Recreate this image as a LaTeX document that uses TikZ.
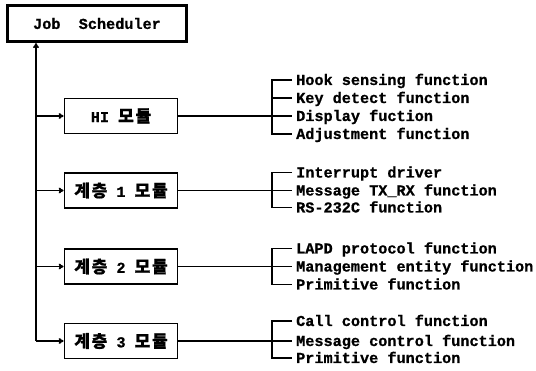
\documentclass[tikz,border=0pt]{standalone}
\usepackage{fontspec}
\setmonofont{Liberation Mono}[BoldFeatures={FakeBold=0.8}]
\newfontfamily\krfont[LetterSpace=10,BoldFeatures={FakeBold=1}]{Noto Sans CJK KR}
\usetikzlibrary{arrows.meta}
\newcommand\krt[1]{{\krfont\bfseries\fontsize{17}{18}\selectfont #1}}
\begin{document}
\begin{tikzpicture}[x=1pt,y=-1pt,
  jobbox/.style={draw, line width=3.2pt, minimum width=179pt, minimum height=36pt, inner sep=0pt,
    font=\ttfamily\bfseries\fontsize{15.2}{18}\selectfont},
  modbox/.style={draw, line width=1.9pt, minimum width=113pt, minimum height=35pt, inner sep=0pt,
    font=\ttfamily\bfseries\fontsize{15.2}{18}\selectfont},
  func/.style={anchor=west, inner sep=0pt, text height=10pt, text depth=0pt,
    font=\ttfamily\bfseries\fontsize{15.2}{18}\selectfont},
  conn/.style={line width=1.8pt},
  arr/.style={conn, -{To[length=5pt,width=6pt]}},
  brk/.style={line width=1.6pt}]

\useasboundingbox (0,0) rectangle (536,371);

% scheduler
\node[jobbox] (job) at (97,23.5) {Job\ \ Scheduler};

% modules
\node[modbox] (m1) at (121,116) {HI\ \krt{모듈}};
\node[modbox] (m2) at (121,190.5) {\krt{계층}\ 1\ \krt{모듈}};
\node[modbox] (m3) at (121,266.5) {\krt{계층}\ 2\ \krt{모듈}};
\node[modbox] (m4) at (121,341) {\krt{계층}\ 3\ \krt{모듈}};

% trunk and arrows
\coordinate (tb) at (36,341);
\draw[arr] (tb) -- (tb |- job.south);
\draw[arr] (tb |- m1.west) -- (m1.west);
\draw[arr] (tb |- m2.west) -- (m2.west);
\draw[arr] (tb |- m3.west) -- (m3.west);
\draw[arr] (tb) -- (m4.west);

% function texts
\node[func] (f11) at (296,80)  {Hook sensing function};
\node[func] (f12) at (296,98)  {Key detect function};
\node[func] (f13) at (296,116) {Display fuction};
\node[func] (f14) at (296,134) {Adjustment function};

\node[func] (f21) at (296,172.5) {Interrupt driver};
\node[func] (f22) at (296,190.5) {Message TX\_RX function};
\node[func] (f23) at (296,207.5) {RS-232C function};

\node[func] (f31) at (296,248.5) {LAPD protocol function};
\node[func] (f32) at (296,266.5) {Management entity function};
\node[func] (f33) at (296,284.5) {Primitive function};

\node[func] (f41) at (296,321) {Call control function};
\node[func] (f42) at (296,341) {Message control function};
\node[func] (f43) at (296,358) {Primitive function};

% brackets
\coordinate (bx) at (272,0);
\foreach \m/\a/\b/\mids in {m1/f11/f14/{f12,f13}, m2/f21/f23/{f22}, m3/f31/f33/{f32}, m4/f41/f43/{f42}} {
  \draw[brk] (\m.east) -- (bx |- \m.east);
  \draw[brk] ([xshift=-4pt]\a.west) -- (bx |- \a.west) -- (bx |- \b.west) -- ([xshift=-4pt]\b.west);
  \foreach \f in \mids {
    \draw[brk] (bx |- \f.west) -- ([xshift=-4pt]\f.west);
  }
}
\end{tikzpicture}
\end{document}
